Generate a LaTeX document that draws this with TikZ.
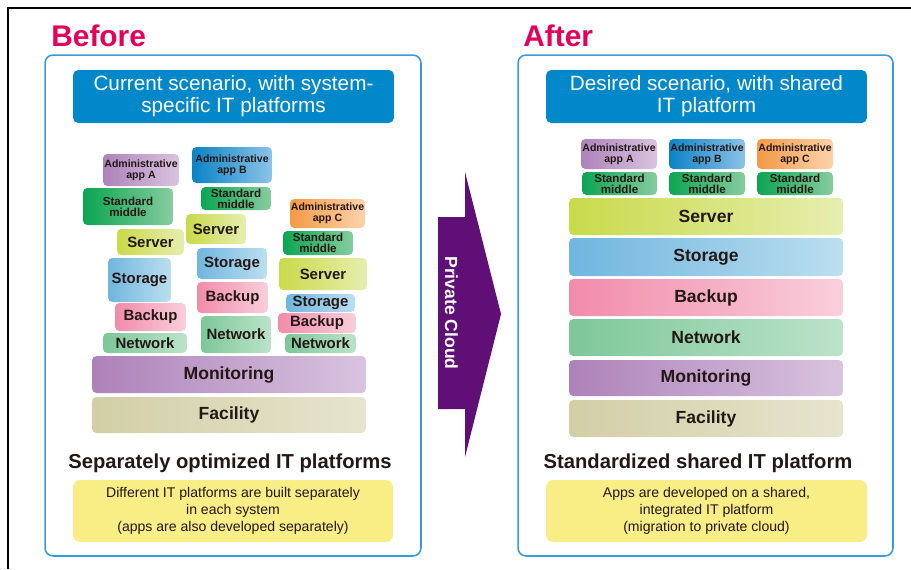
\documentclass[tikz,border=0pt]{standalone}
\usepackage{fontspec}
\setmainfont{Liberation Sans}

\definecolor{ink}{HTML}{231815}
\definecolor{headred}{HTML}{E5005A}
\definecolor{headblue}{HTML}{0088CB}
\definecolor{frameblue}{HTML}{3A9BDC}
\definecolor{noteyellow}{HTML}{F9ED86}
\definecolor{cloudpurple}{HTML}{5F0F75}
\definecolor{purL}{HTML}{AD82B9}\definecolor{purR}{HTML}{D9C4E0}
\definecolor{bluL}{HTML}{0A83C6}\definecolor{bluR}{HTML}{8CC3E8}
\definecolor{orgL}{HTML}{F39A44}\definecolor{orgR}{HTML}{FCD2AC}
\definecolor{grnL}{HTML}{0BA552}\definecolor{grnR}{HTML}{86CD9E}
\definecolor{limL}{HTML}{C9DA4A}\definecolor{limR}{HTML}{E6EEAF}
\definecolor{skyL}{HTML}{70B6DE}\definecolor{skyR}{HTML}{BCDEF0}
\definecolor{pnkL}{HTML}{F28BAB}\definecolor{pnkR}{HTML}{F9CFDB}
\definecolor{mntL}{HTML}{7DC799}\definecolor{mntR}{HTML}{BCE3CA}
\definecolor{khkL}{HTML}{D2CFA6}\definecolor{khkR}{HTML}{E6E4CE}

% box from its two corners (one unit = 0.2mm)
\def\blk[#1](#2)(#3,#4)(#5,#6)#7{\node[#1, minimum width={(#5-#3)*0.2mm}, minimum height={(#6-#4)*0.2mm}] (#2) at ({(#3+#5)/2},{(#4+#6)/2}) {#7};}

\tikzset{
	layer/.style={rounded corners=2.5pt, inner sep=0pt, text=ink, align=center, font=\bfseries\fontsize{8.5}{9}\selectfont},
	tinytext/.style={font=\bfseries\fontsize{6}{6.2}\selectfont},
	midtext/.style={font=\bfseries\fontsize{6.6}{6.2}\selectfont},
	bigtext/.style={font=\bfseries\fontsize{10}{10}\selectfont},
	purp/.style={left color=purL, right color=purR},
	blu/.style={left color=bluL, right color=bluR},
	org/.style={left color=orgL, right color=orgR},
	grn/.style={left color=grnL, right color=grnR},
	lim/.style={left color=limL, right color=limR},
	sky/.style={left color=skyL, right color=skyR},
	pnk/.style={left color=pnkL, right color=pnkR},
	mnt/.style={left color=mntL, right color=mntR},
	khk/.style={left color=khkL, right color=khkR},
	panel/.style={draw=frameblue, line width=0.9pt, rounded corners=4.5pt, inner sep=0pt},
	head/.style={fill=headblue, rounded corners=3pt, inner sep=0pt, text=white, align=center, font=\fontsize{11.8}{12.5}\selectfont},
	note/.style={fill=noteyellow, rounded corners=4pt, inner sep=0pt, text=ink, align=center, font=\fontsize{8}{9.6}\selectfont},
	title/.style={inner sep=0pt, text=ink, font=\bfseries\fontsize{11.5}{12}\selectfont},
	tag/.style={inner sep=0pt, text=headred, font=\bfseries\fontsize{17}{17}\selectfont}
}

\begin{document}
\begin{tikzpicture}[x=0.02cm, y=-0.02cm]
			%%%%% START %%%%%
			\useasboundingbox (0,0) rectangle (911,569);
			
			\draw[line width=1.1pt] (8,569) -- (8,8) -- (911,8);
			
			\blk[panel](before)(45,55)(421,556){}
			\blk[panel](after)(518,55)(893,556){}
			
			\node[tag, anchor=base west] (beforetag) at (51,46) {Before};
			\node[tag, anchor=base west] (aftertag) at (523,46) {After};
			
			\blk[head](curhead)(73,70)(394,123){Current scenario, with system-\\specific IT platforms}
			\blk[head](deshead)(546,70)(867,123){Desired scenario, with shared\\IT platform}
			
			% separate stacks
			\blk[layer, tinytext, purp](adminA)(103,154)(179,186){Administrative\\app A}
			\blk[layer, tinytext, blu](adminB)(192,147)(272,183){Administrative\\app B}
			\blk[layer, tinytext, org](adminC)(290,199)(365,228){Administrative\\app C}
			
			\blk[layer, midtext, grn](midA)(83,188)(173,225){Standard\\middle}
			\blk[layer, midtext, grn](midB)(201,187)(271,210){Standard\\middle}
			\blk[layer, midtext, grn](midC)(283,231)(353,255){Standard\\middle}
			
			\blk[layer, lim](serverA)(117,229)(184,255){Server}
			\blk[layer, lim](serverB)(186,214)(246,244){Server}
			\blk[layer, lim](serverC)(279,258)(367,290){Server}
			
			\blk[layer, sky](storageA)(108,258)(171,302){Storage}
			\blk[layer, sky](storageB)(197,248)(267,279){Storage}
			\blk[layer, sky](storageC)(286,294)(355,312){Storage}
			
			\blk[layer, pnk](backupA)(115,303)(186,331){Backup}
			\blk[layer, pnk](backupB)(197,282)(268,313){Backup}
			\blk[layer, pnk](backupC)(278,313)(356,333){Backup}
			
			\blk[layer, mnt](networkA)(103,333)(187,353){Network}
			\blk[layer, mnt](networkB)(201,316)(271,353){Network}
			\blk[layer, mnt](networkC)(285,334)(356,353){Network}
			
			\blk[layer, bigtext, purp](monitorL)(92,356)(366,393){Monitoring}
			\blk[layer, bigtext, khk](facilityL)(92,397)(366,433){Facility}
			
			% shared stack
			\blk[layer, tinytext, purp](adminRA)(581,139)(657,169){Administrative\\app A}
			\blk[layer, tinytext, blu](adminRB)(669,139)(745,169){Administrative\\app B}
			\blk[layer, tinytext, org](adminRC)(757,139)(833,169){Administrative\\app C}
			
			\blk[layer, midtext, grn](midRA)(582,172)(657,195){Standard\\middle}
			\blk[layer, midtext, grn](midRB)(669,172)(745,195){Standard\\middle}
			\blk[layer, midtext, grn](midRC)(757,172)(833,195){Standard\\middle}
			
			\blk[layer, bigtext, lim](serverR)(569,198)(843,235){Server}
			\blk[layer, bigtext, sky](storageR)(569,238)(843,276){Storage}
			\blk[layer, bigtext, pnk](backupR)(569,279)(843,316){Backup}
			\blk[layer, bigtext, mnt](networkR)(569,319)(843,356){Network}
			\blk[layer, bigtext, purp](monitorR)(569,360)(843,396){Monitoring}
			\blk[layer, bigtext, khk](facilityR)(569,400)(843,437){Facility}
			
			\node[title, anchor=base] (beforetitle) at (230,468) {Separately optimized IT platforms};
			\node[title, anchor=base] (aftertitle) at (698,468) {Standardized shared IT platform};
			
			\blk[note](beforenote)(73,480)(393,542){Different IT platforms are built separately\\in each system\\(apps are also developed separately)}
			\blk[note](afternote)(546,480)(867,542){Apps are developed on a shared,\\integrated IT platform\\(migration to private cloud)}
			
			% big arrow
			\fill[cloudpurple] (438,217) -- (465,217) -- (465,172) -- (501,314) -- (465,457) -- (465,409) -- (438,409) -- cycle;
			\node[rotate=-90, inner sep=0pt, text=white, font=\bfseries\fontsize{10}{10}\selectfont] (cloudlabel) at (451.5,313) {Private Cloud};
			
			%%%%% END %%%%%
\end{tikzpicture}
\end{document}
